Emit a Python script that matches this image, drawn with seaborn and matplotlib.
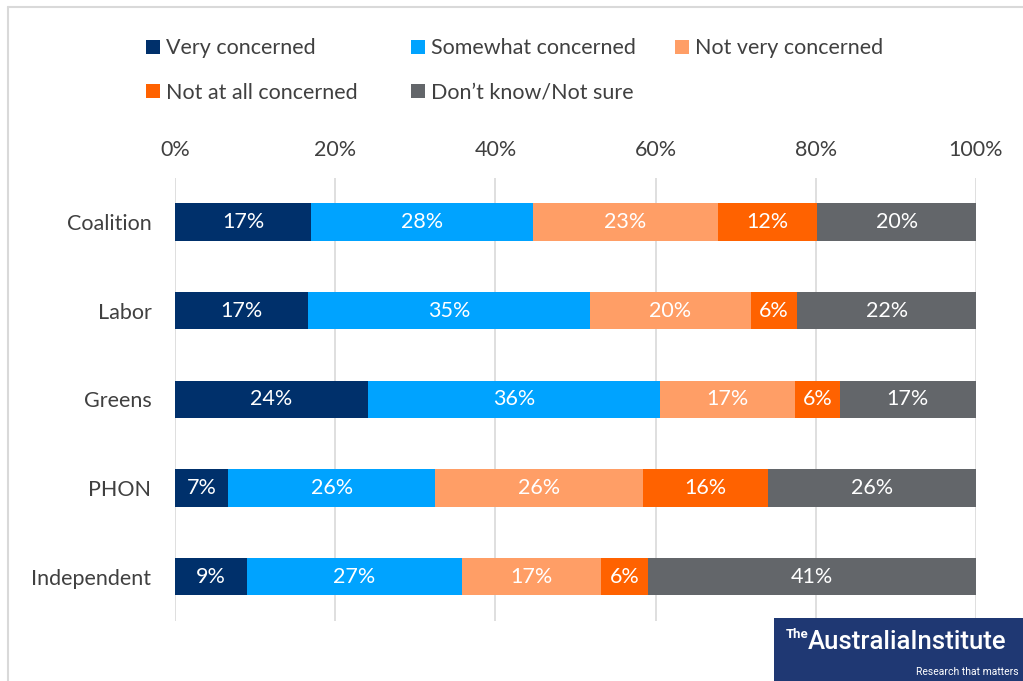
import matplotlib
matplotlib.use("Agg")
import matplotlib.pyplot as plt
import seaborn as sns
import pandas as pd
import numpy as np
from matplotlib.patches import Patch, Rectangle
from matplotlib.lines import Line2D

categories = ["Coalition", "Labor", "Greens", "PHON", "Independent"]
series = ["Very concerned", "Somewhat concerned", "Not very concerned",
          "Not at all concerned", "Don\u2019t know/Not sure"]
very = [17.0, 16.6, 24.1, 6.6, 9.0]
somewhat = [27.7, 35.2, 36.4, 25.9, 26.8]
not_very = [23.1, 20.1, 16.9, 25.9, 17.4]
not_at_all = [12.4, 5.8, 5.6, 15.6, 5.9]
dont_know = [19.8, 22.3, 17.0, 26.0, 40.9]
ticks = [0, 20, 40, 60, 80, 100]
tick_labels = ["0%", "20%", "40%", "60%", "80%", "100%"]

colors = ["#00306B", "#00A3FF", "#FF9E66", "#FF6200", "#63666A"]
values = [very, somewhat, not_very, not_at_all, dont_know]

sns.set_theme(style="white")
plt.rcParams["font.family"] = ["Lato", "DejaVu Sans"]
FS = 15.5
TXT = "#404040"

df = pd.DataFrame({"category": categories})
for s, v in zip(series, values):
    df[s] = v
cum = df[series].cumsum(axis=1)

fig = plt.figure(figsize=(10.23, 6.81), dpi=100)
ax = fig.add_axes([175 / 1023, 1 - 621 / 681, (976 - 175) / 1023, (621 - 177.6) / 681])

for i in range(len(series) - 1, -1, -1):
    sns.barplot(x=cum[series[i]].values, y=df["category"], color=colors[i],
                saturation=1, width=0.42, orient="h", ax=ax, linewidth=0,
                edgecolor="none")

for i, s in enumerate(series):
    for j, cat in enumerate(categories):
        v = df[s].iloc[j]
        c = cum[s].iloc[j] - v / 2
        ax.text(c, j, f"{v:.0f}%", ha="center", va="center", color="white",
                fontsize=FS)

ax.set_xlim(0, 100)
ax.set_ylim(4.5, -0.5)
ax.set_xticks(ticks)
ax.set_xticklabels(tick_labels)
ax.xaxis.tick_top()
ax.tick_params(axis="x", length=0, pad=13, labelsize=FS, labelcolor=TXT)
ax.tick_params(axis="y", length=0, pad=17, labelsize=FS, labelcolor=TXT)
ax.set_xlabel("")
ax.set_ylabel("")
ax.grid(axis="x", color="#D9D9D9", linewidth=1.2)
ax.set_axisbelow(True)
for sp in ax.spines.values():
    sp.set_visible(False)

# legend in three columns
cols = [[0, 3], [1, 4], [2]]
xs = [146, 411, 675]
for col, x in zip(cols, xs):
    handles = [Patch(facecolor=colors[k], edgecolor="none", label=series[k]) for k in col]
    yc = 48.5 if len(col) == 1 else 70.5
    fig.legend(handles=handles, loc="center left",
               bbox_to_anchor=(x / 1023, 1 - yc / 681), frameon=False,
               fontsize=FS, labelcolor=TXT, handlelength=0.63, handleheight=0.63,
               handletextpad=0.3, labelspacing=1.15, borderpad=0, borderaxespad=0)

# outer border
fig.add_artist(Line2D([8 / 1023, 1.0], [1 - 7 / 681, 1 - 7 / 681], transform=fig.transFigure,
                      color="#D9D9D9", linewidth=1.5))
fig.add_artist(Line2D([8 / 1023, 8 / 1023], [0, 1 - 7 / 681], transform=fig.transFigure,
                      color="#D9D9D9", linewidth=1.5))

# logo
fig.add_artist(Rectangle((774 / 1023, 0), 1 - 774 / 1023, 63 / 681, transform=fig.transFigure,
                         facecolor="#1F3873", edgecolor="none"))
fig.text(786 / 1023, 1 - 635 / 681, "The", color="white", fontsize=9.5,
         family=["Roboto", "DejaVu Sans"], fontweight="bold", va="center", ha="left")
fig.text(808 / 1023, 1 - 642 / 681, "AustraliaInstitute", color="white", fontsize=18.5,
         family=["Roboto", "DejaVu Sans"], fontweight="medium", va="center", ha="left")
fig.text(1019 / 1023, 1 - 672 / 681, "Research that matters", color="white", fontsize=7.5,
         family=["Roboto", "DejaVu Sans"], va="center", ha="right")

fig.savefig("out.png", dpi=100)
